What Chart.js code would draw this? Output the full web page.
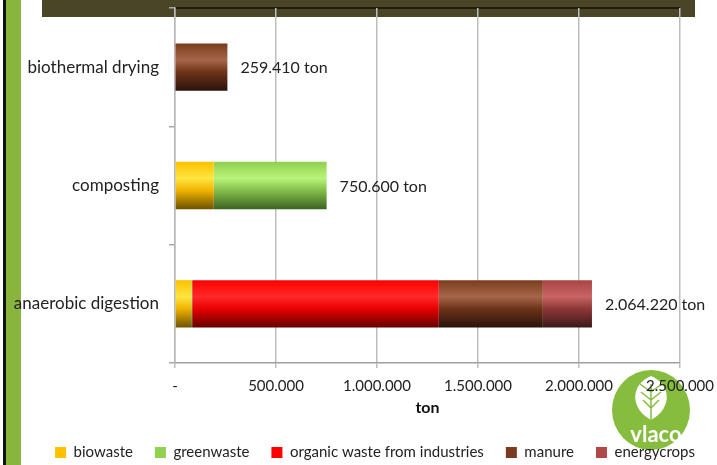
<!DOCTYPE html>
<html><head><meta charset="utf-8">
<script src="https://cdn.jsdelivr.net/npm/chart.js@4.4.1/dist/chart.umd.min.js"></script>
<style>html,body{margin:0;padding:0;background:#fff;}#wrap{width:717px;height:465px;position:relative;}</style>
</head><body><div id="wrap"><canvas id="c" width="717" height="465"></canvas></div>
<script>
const categories = ["biothermal drying", "composting", "anaerobic digestion"];
const biowaste = [0, 192000, 80000];
const greenwaste = [0, 558600, 5000];
const organicIndustry = [3000, 0, 1221000];
const manure = [256410, 0, 515000];
const energycrops = [0, 0, 243220];
const totalLabels = ["259.410 ton", "750.600 ton", "2.064.220 ton"];
const xTicks = [0, 500000, 1000000, 1500000, 2000000, 2500000];
const xTickLabels = ["-", "500.000", "1.000.000", "1.500.000", "2.000.000", "2.500.000"];
const seriesNames = ["biowaste", "greenwaste", "organic waste from industries", "manure", "energycrops"];

const FONT = "Lato, 'Open Sans', sans-serif";
const BAR_PCT = 0.4;
const palettes = [
  {flat:"#ffc000", stops:["#ffc000","#ffe640","#f0b400","#6e5200"]},
  {flat:"#92d050", stops:["#8fd04e","#b9f47a","#84bf4a","#3b6420"]},
  {flat:"#ff0000", stops:["#ff0000","#ff2a2a","#e80000","#650000"]},
  {flat:"#7b3a1e", stops:["#7a3c1e","#a5664b","#6e341a","#2a130a"]},
  {flat:"#b04848", stops:["#a84444","#c86464","#8e3838","#3e1818"]}
];
function grad(idx){
  return function(ctx){
    const chart = ctx.chart;
    const p = palettes[idx];
    const ys = chart.scales && chart.scales.y;
    if (!ys || !chart.chartArea || ctx.dataIndex === undefined) return p.flat;
    const yc = ys.getPixelForValue(ctx.dataIndex);
    const half = (ys.height / categories.length) * BAR_PCT / 2;
    if (!isFinite(yc) || !isFinite(half) || half <= 0) return p.flat;
    const g = chart.ctx.createLinearGradient(0, yc - half, 0, yc + half);
    g.addColorStop(0, p.stops[0]);
    g.addColorStop(0.35, p.stops[1]);
    g.addColorStop(0.6, p.stops[2]);
    g.addColorStop(1, p.stops[3]);
    return g;
  };
}
const seriesData = [biowaste, greenwaste, organicIndustry, manure, energycrops];
const datasets = seriesData.map((d, i) => ({
  label: seriesNames[i], data: d,
  backgroundColor: grad(i), borderWidth: 0,
  barPercentage: BAR_PCT, categoryPercentage: 1.0
}));

function drawLogo(c){
  c.save();
  c.fillStyle = '#86bd3f';
  c.beginPath();
  c.ellipse(651, 410, 39, 40, 0, 0, Math.PI*2);
  c.fill();
  c.fillStyle = '#ffffff';
  c.beginPath();
  c.moveTo(651, 376);
  c.bezierCurveTo(671, 384, 673, 408, 651, 420);
  c.bezierCurveTo(629, 408, 631, 384, 651, 376);
  c.fill();
  c.strokeStyle = '#86bd3f'; c.lineWidth = 1.5;
  c.beginPath(); c.moveTo(651,384); c.lineTo(651,420);
  [[392,640,384],[400,641,392],[408,643,400]].forEach(([y,x1,y1])=>{ c.moveTo(651,y); c.lineTo(x1,y1); c.moveTo(651,y); c.lineTo(1302-x1,y1); });
  c.stroke();
  c.fillStyle = '#ffffff';
  c.font = "bold 22px " + FONT; c.textAlign = 'center'; c.textBaseline = 'middle';
  c.fillText("vlaco", 656, 435);
  c.restore();
}

const decor = {
  id: 'decor',
  beforeDraw(chart){
    const c = chart.ctx;
    c.save();
    c.fillStyle = '#ffffff'; c.fillRect(0,0,chart.width,chart.height);
    c.fillStyle = '#111'; c.fillRect(3,0,3,465);
    c.fillStyle = '#8ab53c'; c.fillRect(6,0,15,465);
    c.fillStyle = '#4b4527'; c.fillRect(42,0,653,17);
    const a = chart.chartArea;
    c.fillStyle = '#1e1c0e'; c.fillRect(a.left, a.top - 1, a.right - a.left, 2);
    c.restore();
    drawLogo(c);
  },
  afterDatasetsDraw(chart){
    const c = chart.ctx; const xs = chart.scales.x; const ys = chart.scales.y;
    c.save();
    c.font = "16px " + FONT; c.fillStyle = '#222'; c.textBaseline = 'middle'; c.textAlign='left';
    categories.forEach((cat, i) => {
      let tot = 0; seriesData.forEach(s => tot += s[i]);
      c.fillText(totalLabels[i], xs.getPixelForValue(tot) + 13, ys.getPixelForValue(i) + 1);
    });
    c.restore();
  }
};

new Chart(document.getElementById('c'), {
  type: 'bar',
  data: { labels: categories, datasets },
  options: {
    indexAxis: 'y', responsive: false, animation: false,
    devicePixelRatio: 1,
    layout: { padding: { top: 8, right: 0, left: 0, bottom: -5 } },
    scales: {
      x: {
        stacked: true, min: 0, max: 2500000,
        afterBuildTicks(scale){ scale.ticks = xTicks.map(v => ({value: v})); },
        ticks: { callback: (v, i) => xTickLabels[i], font: {family: FONT, size: 15}, color: '#222', padding: 9, maxRotation: 0, autoSkip: false },
        grid: { color: '#bdbdbd', lineWidth: 1.5, tickLength: 5, drawTicks: true },
        border: { color: '#a0a0a0', width: 1.5 },
        title: { display: true, text: 'ton', font: {family: FONT, size: 16, weight: 'bold'}, color: '#111', padding: {top: 0, bottom: 6} },
        afterFit(scale){ scale.height = 60; scale.paddingRight = 37; scale.paddingLeft = 0; }
      },
      y: {
        stacked: true,
        ticks: { font: {family: FONT, size: 17}, color: '#222', padding: 10 },
        grid: { drawOnChartArea: false, drawTicks: true, tickLength: 6, offset: true, color: '#a8a8a8', lineWidth: 1.5 },
        border: { color: '#b8b8b8', width: 1.5 },
        afterFit(scale){ scale.width = 175; scale.paddingTop = 0; scale.paddingBottom = 0; }
      }
    },
    plugins: {
      legend: {
        position: 'bottom', align: 'end',
        labels: { font: {family: FONT, size: 15}, color: '#222', boxWidth: 11, boxHeight: 11, padding: 22,
          generateLabels(chart){
            return chart.data.datasets.map((d, i) => ({ text: d.label, fillStyle: palettes[i].flat, strokeStyle: palettes[i].flat, lineWidth: 0, datasetIndex: i, fontColor: '#222' }));
          }
        }
      },
      tooltip: { enabled: false }
    }
  },
  plugins: [decor]
});
</script></body></html>
